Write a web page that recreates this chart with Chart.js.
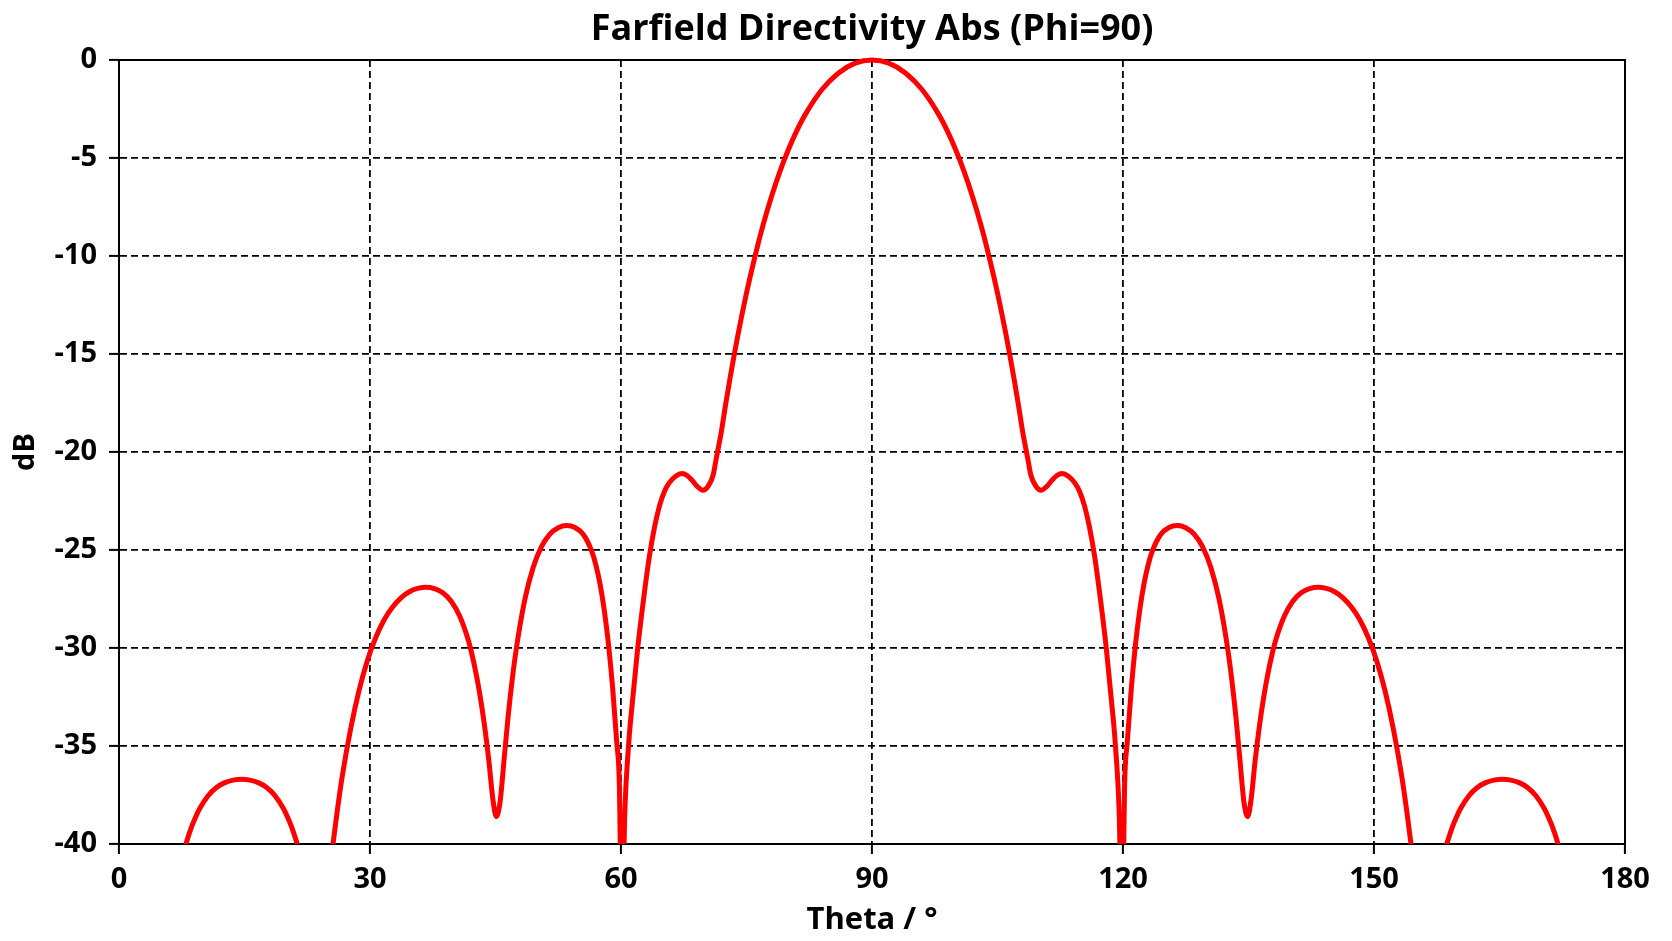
<!DOCTYPE html>
<html>
<head>
<meta charset="utf-8">
<style>
  html, body { margin: 0; padding: 0; background: #ffffff; }
  #wrap { width: 1672px; height: 941px; }
</style>
<script src="https://cdn.jsdelivr.net/npm/chart.js@4/dist/chart.umd.min.js"></script>
</head>
<body>
<div id="wrap"><canvas id="c" width="1672" height="941"></canvas></div>
<script>
// ---- data ----
const chartTitle = "Farfield Directivity Abs (Phi=90)";
const xAxisTitle = "Theta / °";
const yAxisTitle = "dB";
const xTicks = [0, 30, 60, 90, 120, 150, 180];
const yTicks = [0, -5, -10, -15, -20, -25, -30, -35, -40];

// theta 0..90 (degrees)
const thetaLeft = [
  0, 3, 6, 7.35, 8.0, 8.65, 9.15, 9.65, 10.65, 11.65,
  12.65, 13.65, 14.65, 15.65, 16.65, 17.65, 18.65, 19.65, 20.15, 20.65,
  21.3, 21.95, 23.3, 24.4,
  25.1, 25.5, 26.1, 26.7, 27.7, 28.7, 29.7, 30.7, 31.7, 32.7,
  33.7, 34.7, 35.7, 36.7, 37.7, 38.7, 39.7, 40.7, 41.7, 42.2,
  42.7, 43.2, 43.7, 44.2, 44.7, 45.1, 45.5, 45.8, 46.0, 46.5,
  47.0, 47.5, 48.5, 49.5, 50.5, 51.5, 52.5, 53.5, 54.5, 55.5,
  56.5, 57.0, 57.5, 58.0, 58.5, 59.0, 59.5, 59.8, 60.1, 60.45,
  60.9, 61.4, 62.0, 62.7, 63.4, 64.0, 64.6, 65.2, 65.8, 66.5,
  67.3, 67.9, 68.5, 69.1, 69.8, 70.4, 71.0, 71.4, 72.0, 72.5,
  73.0, 74.0, 75.0, 76.0, 77.0, 78.0, 79.0, 80.0, 81.0, 82.0,
  84.0, 86.0, 88.0, 90
];
// directivity in dB for thetaLeft
const dbLeft = [
  -55, -50, -44.5, -41.05, -40, -39.15, -38.63, -38.19, -37.54, -37.12,
  -36.87, -36.74, -36.7, -36.74, -36.87, -37.12, -37.54, -38.19, -38.63, -39.15,
  -40, -41.05, -46, -43.5,
  -41.7, -40.25, -38.27, -36.5, -34.1, -32.15, -30.62, -29.45, -28.56, -27.91,
  -27.44, -27.13, -26.96, -26.9, -26.97, -27.18, -27.61, -28.35, -29.53, -30.35,
  -31.35, -32.55, -34.0, -35.73, -37.76, -38.6, -38.0, -36.8, -35.8, -33.53,
  -31.61, -30, -27.54, -25.89, -24.83, -24.19, -23.86, -23.75, -23.85, -24.21,
  -25.06, -25.77, -26.75, -28.07, -29.8, -32.03, -34.85, -36.9, -45, -38.5,
  -35, -32.6, -30, -27.5, -25.3, -23.85, -22.75, -22.0, -21.55, -21.25,
  -21.1, -21.2, -21.45, -21.75, -21.95, -21.75, -21.2, -20.3, -18.95, -17.59,
  -16.32, -13.98, -11.89, -10.04, -8.39, -6.95, -5.68, -4.58, -3.62, -2.80,
  -1.52, -0.66, -0.16, 0
];

// theta 92..180 (degrees)
const thetaRight = [
  92, 94, 96, 98, 99, 100, 101, 102, 103, 104,
  105, 106, 107, 107.5, 108, 108.6, 109, 109.6, 110.2, 110.9,
  111.5, 112.1, 112.7, 113.5, 114.2, 114.8, 115.4, 116, 116.6, 117.3,
  118, 118.6, 119.1, 119.55, 119.9, 120.2, 120.5, 121, 121.5, 122,
  122.5, 123, 123.5, 124.5, 125.5, 126.5, 127.5, 128.5, 129.5, 130.5,
  131.5, 132.5, 133, 133.5, 134, 134.2, 134.5, 134.9, 135.3, 135.8,
  136.3, 136.8, 137.3, 137.8, 138.3, 139.3, 140.3, 141.3, 142.3, 143.3,
  144.3, 145.3, 146.3, 147.3, 148.3, 149.3, 150.3, 151.3, 152.3, 153.3,
  153.9, 154.5, 154.9, 155.6, 156.7,
  158.05, 158.7, 159.35, 159.85, 160.35, 161.35, 162.35, 163.35, 164.35, 165.35,
  166.35, 167.35, 168.35, 169.35, 170.35, 170.85, 171.35, 172, 172.65, 174,
  177, 180
];
// directivity in dB for thetaRight
const dbRight = [
  -0.16, -0.66, -1.52, -2.80, -3.62, -4.58, -5.68, -6.95, -8.39, -10.04,
  -11.89, -13.98, -16.32, -17.59, -18.95, -20.3, -21.2, -21.75, -21.95, -21.75,
  -21.45, -21.2, -21.1, -21.25, -21.55, -22.0, -22.75, -23.85, -25.3, -27.5,
  -30, -32.6, -35, -38.5, -45, -36.9, -34.85, -32.03, -29.8, -28.07,
  -26.75, -25.77, -25.06, -24.21, -23.85, -23.75, -23.86, -24.19, -24.83, -25.89,
  -27.54, -30, -31.61, -33.53, -35.8, -36.8, -38.0, -38.6, -37.76, -35.73,
  -34.0, -32.55, -31.35, -30.35, -29.53, -28.35, -27.61, -27.18, -26.97, -26.9,
  -26.96, -27.13, -27.44, -27.91, -28.56, -29.45, -30.62, -32.15, -34.1, -36.5,
  -38.27, -40.25, -41.7, -43.5, -46,
  -41.05, -40, -39.15, -38.63, -38.19, -37.54, -37.12, -36.87, -36.74, -36.7,
  -36.74, -36.87, -37.12, -37.54, -38.19, -38.63, -39.15, -40, -41.05, -44.5,
  -50, -55
];

// ---- chart ----
const FONT = "'Open Sans', 'Liberation Sans', sans-serif";
const thetaAll = thetaLeft.concat(thetaRight);
const dbAll = dbLeft.concat(dbRight);
const points = thetaAll.map((t, i) => ({ x: t, y: dbAll[i] }));

const frameBox = {
  id: 'frameBox',
  beforeDatasetsDraw(chart) {
    const a = chart.chartArea, ctx = chart.ctx;
    ctx.save();
    ctx.strokeStyle = '#000000';
    ctx.lineWidth = 2;
    ctx.setLineDash([]);
    ctx.strokeRect(a.left, a.top, a.right - a.left, a.bottom - a.top);
    ctx.restore();
  }
};

const gridOpts = {
  color: '#000000',
  lineWidth: 1.8,
  tickLength: 10,
  tickColor: '#000000',
  tickWidth: 2,
  tickBorderDash: [],
  drawTicks: true
};

new Chart(document.getElementById('c'), {
  type: 'line',
  data: {
    datasets: [{
      label: 'Farfield Directivity Abs',
      data: points,
      borderColor: '#ff0000',
      backgroundColor: '#ff0000',
      borderWidth: 5,
      pointRadius: 0,
      pointHoverRadius: 0,
      fill: false,
      cubicInterpolationMode: 'monotone',
      borderJoinStyle: 'round',
      borderCapStyle: 'butt',
      clip: { left: 0, top: 4, right: 0, bottom: 0 }
    }]
  },
  options: {
    responsive: false,
    animation: false,
    devicePixelRatio: 1,
    events: [],
    layout: { padding: { left: 0, right: 47, top: 0, bottom: 0 } },
    plugins: {
      legend: { display: false },
      tooltip: { enabled: false },
      title: {
        display: true,
        text: chartTitle,
        fullSize: false,
        color: '#000000',
        font: { family: FONT, size: 36, weight: 'bold', lineHeight: 1.2 },
        padding: { top: 8, bottom: 8.8 }
      }
    },
    scales: {
      x: {
        type: 'linear',
        min: 0,
        max: 180,
        afterFit(scale) { scale.height = 97; },
        afterBuildTicks(scale) { scale.ticks = xTicks.map(v => ({ value: v })); },
        ticks: {
          color: '#000000',
          padding: 8,
          maxRotation: 0,
          autoSkip: false,
          font: { family: FONT, size: 29, weight: 'bold' }
        },
        grid: gridOpts,
        border: { display: true, color: '#000000', width: 2, dash: [7, 4] },
        title: {
          display: true,
          text: xAxisTitle,
          color: '#000000',
          font: { family: FONT, size: 31, weight: 'bold', lineHeight: 1.2 },
          padding: { top: 0, bottom: 2 }
        }
      },
      y: {
        type: 'linear',
        min: -40,
        max: 0,
        afterFit(scale) { scale.width = 119; },
        afterBuildTicks(scale) { scale.ticks = yTicks.map(v => ({ value: v })); },
        ticks: {
          color: '#000000',
          padding: 12,
          autoSkip: false,
          font: { family: FONT, size: 29, weight: 'bold' }
        },
        grid: gridOpts,
        border: { display: true, color: '#000000', width: 2, dash: [7, 4] },
        title: {
          display: true,
          text: yAxisTitle,
          color: '#000000',
          font: { family: FONT, size: 29, weight: 'bold', lineHeight: 1.2 },
          padding: { top: 8, bottom: 0 }
        }
      }
    }
  },
  plugins: [frameBox]
});
</script>
</body>
</html>
